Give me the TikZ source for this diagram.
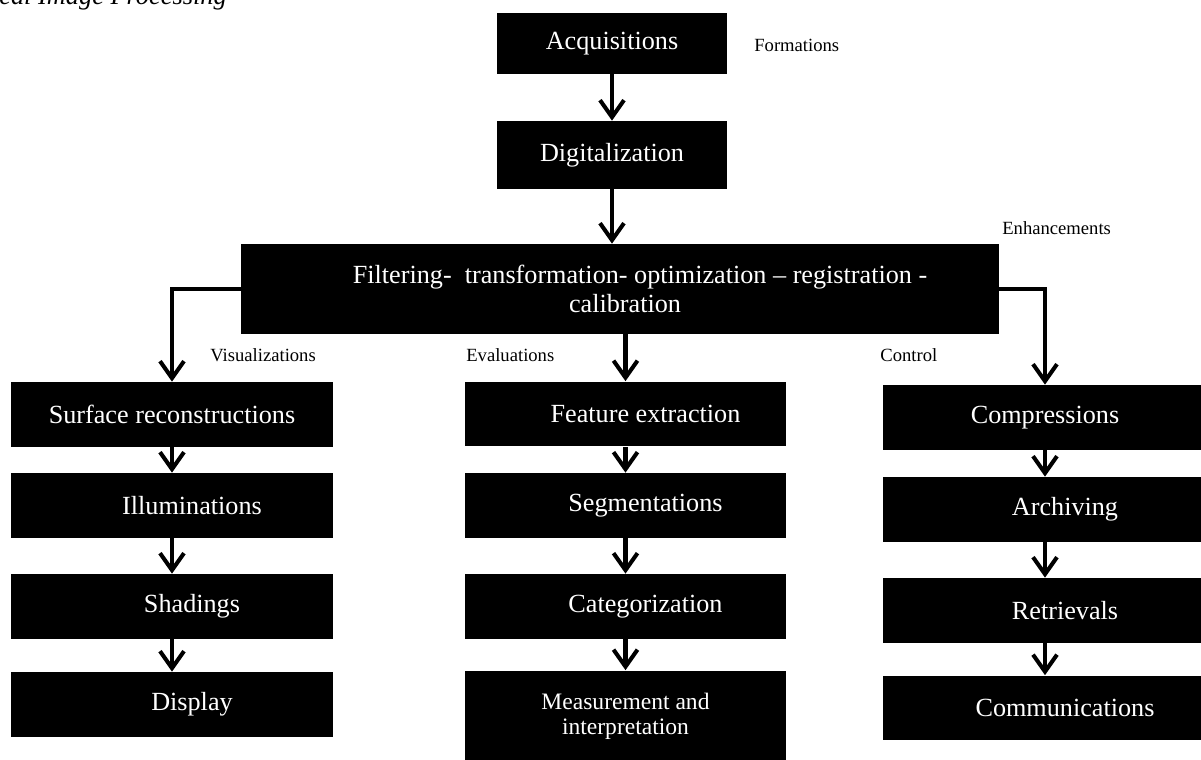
\documentclass[tikz,border=0pt]{standalone}
\usepackage{fontspec}
\setmainfont{Liberation Serif}
\usetikzlibrary{arrows.meta,positioning,calc}

\tikzset{
    stage/.style={fill=black,text=white,inner sep=0pt,align=center,
        font=\fontsize{14.9}{17}\selectfont,minimum height=1.3cm},
    colbox/.style={stage,minimum width=6.44cm},
    indent/.style={execute at begin node=\hspace*{0.8cm}},
    tag/.style={inner sep=0pt,anchor=west,font=\fontsize{10.6}{12}\selectfont},
    flow/.style={line width=2.3pt,-{Straight Barb[length=3.4mm,width=4.8mm]}}
}

\begin{document}
\begin{tikzpicture}[x=0.02cm,y=-0.02cm]
    \useasboundingbox (0,0) rectangle (1201,760);
    % Caption (cut at the top)
    \node[anchor=base west,inner sep=0pt,font=\fontsize{15}{18}\selectfont\itshape] (cap) at (-1,5) {cal Image Processing};

    % Acquisition and enhancement
    \node[stage,minimum width=4.62cm,minimum height=1.22cm] (acq) at (612,43.5) {Acquisitions};
    \node[stage,minimum width=4.62cm,minimum height=1.36cm] (dig) at (612,155) {Digitalization};
    \node[stage,minimum width=15.16cm,minimum height=1.8cm,font=\fontsize{14.9}{16.5}\selectfont,indent] (filt) at (620,289)
        {Filtering-\ \ transformation- optimization – registration -\\\hspace*{-0.6cm}calibration};
    \node[tag] (form) at (754,45) {Formations};
    \node[tag] (enh) at (1002,228) {Enhancements};

    % Visualizations
    \node[colbox] (surf) at (172,414.5) {Surface reconstructions};
    \node[colbox,indent] (illu) at (172,505.5) {Illuminations};
    \node[colbox,indent] (shad) at (172,606.5) {Shadings};
    \node[colbox,indent] (disp) at (172,704.5) {Display};
    \node[tag] (vis) at (210,355) {Visualizations};

    % Evaluations
    \node[colbox,indent] (feat) at (625.5,414) {Feature extraction};
    \node[colbox,indent] (segm) at (625.5,505.5) {Segmentations};
    \node[colbox,indent] (cate) at (625.5,606.5) {Categorization};
    \node[colbox,minimum height=1.82cm,font=\fontsize{13.4}{14.3}\selectfont] (meas) at (625.5,716) {Measurement and\\interpretation};
    \node[tag] (eval) at (466,355) {Evaluations};

    % Control
    \node[colbox,minimum width=6.48cm] (comp) at (1045,417.5) {Compressions};
    \node[colbox,minimum width=6.48cm,indent] (arch) at (1045,509.5) {Archiving};
    \node[colbox,minimum width=6.48cm,indent] (retr) at (1045,610.5) {Retrievals};
    \node[colbox,minimum width=6.48cm,indent] (comm) at (1045,708) {Communications};
    \node[tag] (ctrl) at (880,355) {Control};

    % Arrows
    \draw[flow] (acq.south) -- (dig.north);
    \draw[flow] (dig.south) -- (dig.south |- filt.north);
    \draw[flow] (filt.west) -| (surf.north);
    \draw[flow] (filt.south -| feat.north) -- (feat.north);
    \draw[flow] (filt.east) -| (comp.north);
    \foreach \a/\b in {surf/illu,illu/shad,shad/disp,feat/segm,segm/cate,cate/meas,comp/arch,arch/retr,retr/comm}
        \draw[flow] (\a.south) -- (\b.north);
\end{tikzpicture}
\end{document}
